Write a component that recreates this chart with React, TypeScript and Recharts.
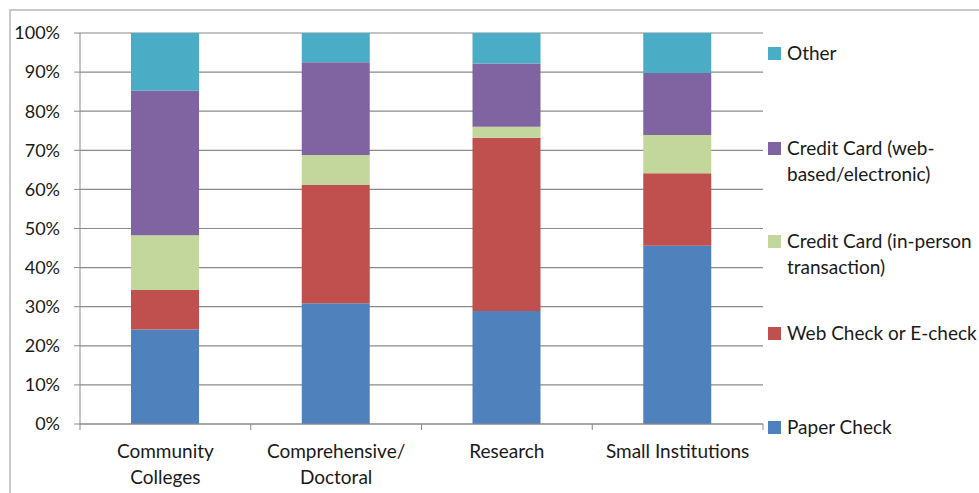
import { BarChart, Bar, XAxis, YAxis, CartesianGrid } from 'recharts';

const categories = ['Community Colleges', 'Comprehensive/ Doctoral', 'Research', 'Small Institutions'];
const categoryLines = [['Community', 'Colleges'], ['Comprehensive/', 'Doctoral'], ['Research'], ['Small Institutions']];

const paperCheck = [24.2, 30.9, 28.9, 45.6];
const webCheck = [10.1, 30.2, 44.3, 18.5];
const ccInPerson = [14.0, 7.7, 2.8, 9.8];
const ccWeb = [36.9, 23.7, 16.2, 15.9];
const other = [14.8, 7.5, 7.8, 10.2];

const yTicks = [0, 10, 20, 30, 40, 50, 60, 70, 80, 90, 100];

// stacking order bottom -> top
const series = [
  { key: 'paper', name: 'Paper Check', lines: ['Paper Check'], values: paperCheck, color: '#4F81BD' },
  { key: 'web', name: 'Web Check or E-check', lines: ['Web Check or E-check'], values: webCheck, color: '#C0504D' },
  { key: 'ccin', name: 'Credit Card (in-person transaction)', lines: ['Credit Card (in-person', 'transaction)'], values: ccInPerson, color: '#C3D69B' },
  { key: 'ccweb', name: 'Credit Card (web-based/electronic)', lines: ['Credit Card (web-', 'based/electronic)'], values: ccWeb, color: '#8064A2' },
  { key: 'other', name: 'Other', lines: ['Other'], values: other, color: '#4BACC6' },
];

const data = categories.map((c, i) => {
  const row: Record<string, string | number> = { name: c };
  series.forEach((s) => { row[s.key] = s.values[i]; });
  return row;
});

const FONT = 'Lato, "Open Sans", sans-serif';
const TEXT = '#1a1a1a';
const GRID = '#8a8a8a';
const PLOT_LEFT = 80;
const PLOT_RIGHT = 763;
const PLOT_TOP = 33;
const PLOT_BOTTOM = 424;
const BAND = (PLOT_RIGHT - PLOT_LEFT) / categories.length;

const CategoryTick = (props: any) => {
  const { x, y, payload, index } = props;
  const lines = categoryLines[index] || [payload.value];
  return (
    <g>
      <line x1={x - BAND / 2} x2={x - BAND / 2} y1={y - 8} y2={y - 2} stroke={GRID} />
      {index === categories.length - 1 && (
        <line x1={x + BAND / 2} x2={x + BAND / 2} y1={y - 8} y2={y - 2} stroke={GRID} />
      )}
      <text x={x} y={y + 26} textAnchor="middle" fontSize={19} fill={TEXT} fontFamily={FONT}>
        {lines.map((l, i) => (
          <tspan key={i} x={x} dy={i === 0 ? 0 : 26}>{l}</tspan>
        ))}
      </text>
    </g>
  );
};

// legend item first-line centres, top to bottom
const legendTops = [53, 148, 241, 333, 427];

const SideLegend = () => {
  const items = [...series].reverse();
  return (
    <div style={{ position: 'absolute', left: 768, top: 0, width: 260, height: 493, fontFamily: FONT, fontSize: 19, color: TEXT }}>
      {items.map((s, i) => (
        <div key={s.key} style={{ position: 'absolute', left: 0, top: legendTops[i] - 13, whiteSpace: 'nowrap', lineHeight: '26px' }}>
          <span style={{ position: 'absolute', left: 0, top: 7, width: 13, height: 13, background: s.color }} />
          <div style={{ marginLeft: 19 }}>
            {s.lines.map((l, j) => <div key={j}>{l}</div>)}
          </div>
        </div>
      ))}
    </div>
  );
};

export default function App() {
  return (
    <div style={{ position: 'fixed', left: 0, top: 0, width: 979, height: 493, overflow: 'hidden', background: '#fff' }}>
      <div style={{ position: 'absolute', left: 9, top: 9, width: 1000, height: 600, borderLeft: '2px solid #c8c8c8', borderTop: '2px solid #c8c8c8' }} />
      <div style={{ position: 'absolute', left: 0, top: 0 }}>
        <BarChart
          width={979}
          height={493}
          data={data}
          margin={{ top: PLOT_TOP, right: 979 - PLOT_RIGHT, bottom: 0, left: 0 }}
          barSize={68}
        >
          <CartesianGrid vertical={false} stroke={GRID} strokeWidth={1.2} />
          <YAxis
            width={PLOT_LEFT}
            domain={[0, 100]}
            ticks={yTicks}
            interval={0}
            tickFormatter={(v) => `${v}%`}
            axisLine={{ stroke: GRID }}
            tickLine={{ stroke: GRID }}
            tickSize={6}
            tickMargin={14}
            tick={{ fontSize: 18, fill: TEXT, fontFamily: FONT }}
          />
          <XAxis
            dataKey="name"
            interval={0}
            height={493 - PLOT_BOTTOM}
            axisLine={{ stroke: GRID }}
            tickLine={false}
            tick={<CategoryTick />}
          />
          {series.map((s) => (
            <Bar key={s.key} dataKey={s.key} name={s.name} stackId="a" fill={s.color} isAnimationActive={false} />
          ))}
        </BarChart>
      </div>
      <SideLegend />
    </div>
  );
}
